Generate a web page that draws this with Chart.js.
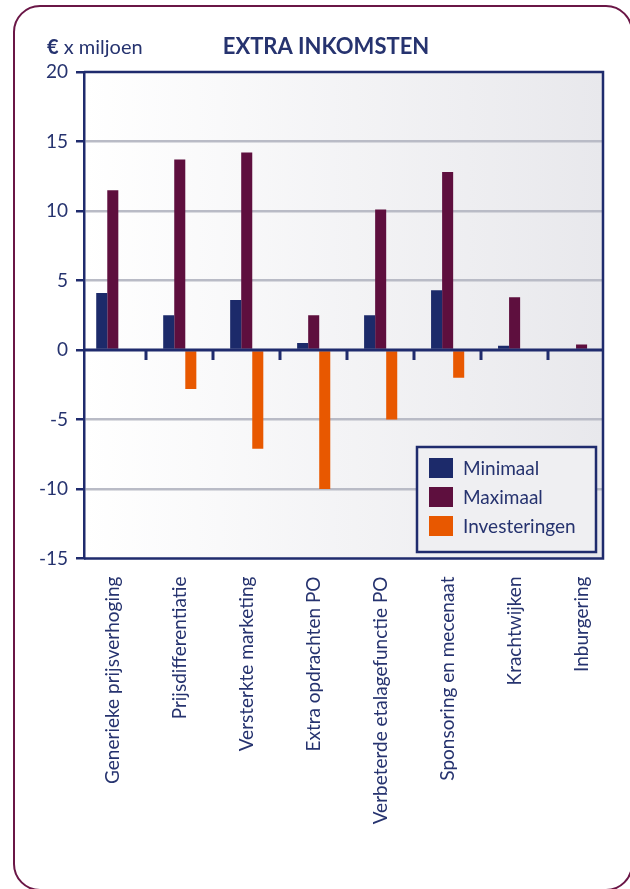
<!DOCTYPE html>
<html><head><meta charset="utf-8">
<script src="https://cdn.jsdelivr.net/npm/chart.js@4.4.1/dist/chart.umd.min.js"></script>
<style>html,body{margin:0;padding:0;background:#fff;} canvas{display:block;}</style>
</head><body>
<canvas id="c" width="630" height="889"></canvas>
<script>
const categories = ["Generieke prijsverhoging","Prijsdifferentiatie","Versterkte marketing","Extra opdrachten PO","Verbeterde etalagefunctie PO","Sponsoring en mecenaat","Krachtwijken","Inburgering"];
const minimaal = [4.1, 2.5, 3.6, 0.5, 2.5, 4.3, 0.3, 0];
const maximaal = [11.5, 13.7, 14.2, 2.5, 10.1, 12.8, 3.8, 0.4];
const investeringen = [0, -2.8, -7.1, -10, -5.0, -2.0, 0, 0];
const seriesNames = ["Minimaal","Maximaal","Investeringen"];
const yTicks = [20,15,10,5,0,-5,-10,-15];
const chartTitle = "EXTRA INKOMSTEN";
const unitSymbol = "€";
const unitText = " x miljoen";

const NAVY = '#1f2b6d';
const TEXT = '#26336f';
const GRID = '#b9bbc6';
const FRAME = '#6a1646';
const COLORS = ['#1c2a6a', '#5e0f3e', '#e85800'];
const FONT = 'Lato';

const series = [minimaal, maximaal, investeringen];

const decor = {
  id: 'decor',
  beforeDraw(chart) {
    const ctx = chart.ctx, a = chart.chartArea;
    ctx.save();
    ctx.fillStyle = '#fff';
    ctx.fillRect(0, 0, chart.width, chart.height);
    // outer rounded frame
    ctx.strokeStyle = FRAME;
    ctx.lineWidth = 2;
    ctx.beginPath();
    ctx.roundRect(14, 6, 618, 884, 26);
    ctx.stroke();
    // plot background gradient
    const g = ctx.createLinearGradient(a.left, 0, a.right, 0);
    g.addColorStop(0, '#ffffff');
    g.addColorStop(1, '#e8e8ec');
    ctx.fillStyle = g;
    ctx.fillRect(a.left, a.top, a.right - a.left, a.bottom - a.top);
    // title & unit label
    ctx.fillStyle = TEXT;
    ctx.textBaseline = 'alphabetic';
    ctx.font = 'bold 22px ' + FONT;
    ctx.textAlign = 'center';
    ctx.fillText(chartTitle, 326, 54);
    ctx.textAlign = 'left';
    ctx.font = 'bold 20px ' + FONT;
    ctx.fillText(unitSymbol, 47, 54);
    const w = ctx.measureText(unitSymbol).width;
    ctx.font = '20px ' + FONT;
    ctx.fillText(unitText, 47 + w, 54);
    ctx.restore();
  },
  afterDatasetsDraw(chart) {
    const ctx = chart.ctx, a = chart.chartArea;
    const xs = chart.scales.x, ys = chart.scales.y;
    const y0 = ys.getPixelForValue(0);
    ctx.save();
    ctx.strokeStyle = NAVY;
    // zero line
    ctx.lineWidth = 3;
    ctx.beginPath();
    ctx.moveTo(a.left, y0); ctx.lineTo(a.right, y0);
    ctx.stroke();
    // category separators below zero line
    for (let i = 0; i < categories.length - 1; i++) {
      const x = Math.round(xs.getPixelForValue(i + 0.5));
      ctx.beginPath();
      ctx.moveTo(x, y0); ctx.lineTo(x, y0 + 10);
      ctx.stroke();
    }
    // box top/right/bottom
    ctx.lineWidth = 2.5;
    ctx.beginPath();
    ctx.moveTo(a.left, a.top); ctx.lineTo(a.right, a.top);
    ctx.lineTo(a.right, a.bottom); ctx.lineTo(a.left, a.bottom);
    ctx.stroke();
    // legend
    const lx = a.right - 186, ly = a.bottom - 111.5, lw = 179, lh = 105;
    ctx.fillStyle = '#efeff2';
    ctx.fillRect(lx, ly, lw, lh);
    ctx.lineWidth = 2.5;
    ctx.strokeRect(lx, ly, lw, lh);
    ctx.font = '19px ' + FONT;
    ctx.textAlign = 'left';
    ctx.textBaseline = 'middle';
    chart.data.datasets.forEach((ds, i) => {
      const sy = ly + 11 + i * 29;
      ctx.fillStyle = ds.backgroundColor;
      ctx.fillRect(lx + 12, sy, 24, 20);
      ctx.fillStyle = TEXT;
      ctx.fillText(ds.label, lx + 46, sy + 11);
    });
    ctx.restore();
  }
};

new Chart(document.getElementById('c'), {
  type: 'bar',
  data: {
    datasets: series.map((arr, k) => ({
      label: seriesNames[k],
      data: arr.map((v, i) => ({x: i, y: v})),
      backgroundColor: COLORS[k],
      borderWidth: 0,
      categoryPercentage: 0.495,
      barPercentage: 1.0
    }))
  },
  options: {
    responsive: false,
    animation: false,
    devicePixelRatio: 1,
    layout: {padding: {left: 0, top: 72, right: 27, bottom: 0}},
    plugins: {legend: {display: false}, tooltip: {enabled: false}},
    scales: {
      x: {
        type: 'linear', min: -0.43, max: 7.32, offset: false, bounds: 'data',
        afterBuildTicks: s => { s.ticks = categories.map((c, i) => ({value: i})); },
        afterFit: s => { s.height = 889 - 558.5; },
        grid: {display: false, drawTicks: false, offset: false},
        border: {display: false},
        ticks: {autoSkip: false, minRotation: 90, maxRotation: 90, padding: 18,
          font: {family: FONT, size: 19}, color: TEXT,
          callback: v => categories[v]}
      },
      y: {
        min: -15, max: 20,
        afterBuildTicks: s => { s.ticks = yTicks.map(v => ({value: v})); },
        afterFit: s => { s.width = 84; },
        grid: {
          color: c => (c.tick && (c.tick.value === 20 || c.tick.value === -15 || c.tick.value === 0)) ? 'rgba(0,0,0,0)' : GRID,
          lineWidth: 2.5, tickColor: NAVY, tickLength: 8, tickWidth: 2.5, drawTicks: true
        },
        border: {display: true, color: NAVY, width: 2.5},
        ticks: {padding: 8, font: {family: FONT, size: 19}, color: TEXT}
      }
    }
  },
  plugins: [decor]
});
</script>
</body></html>
